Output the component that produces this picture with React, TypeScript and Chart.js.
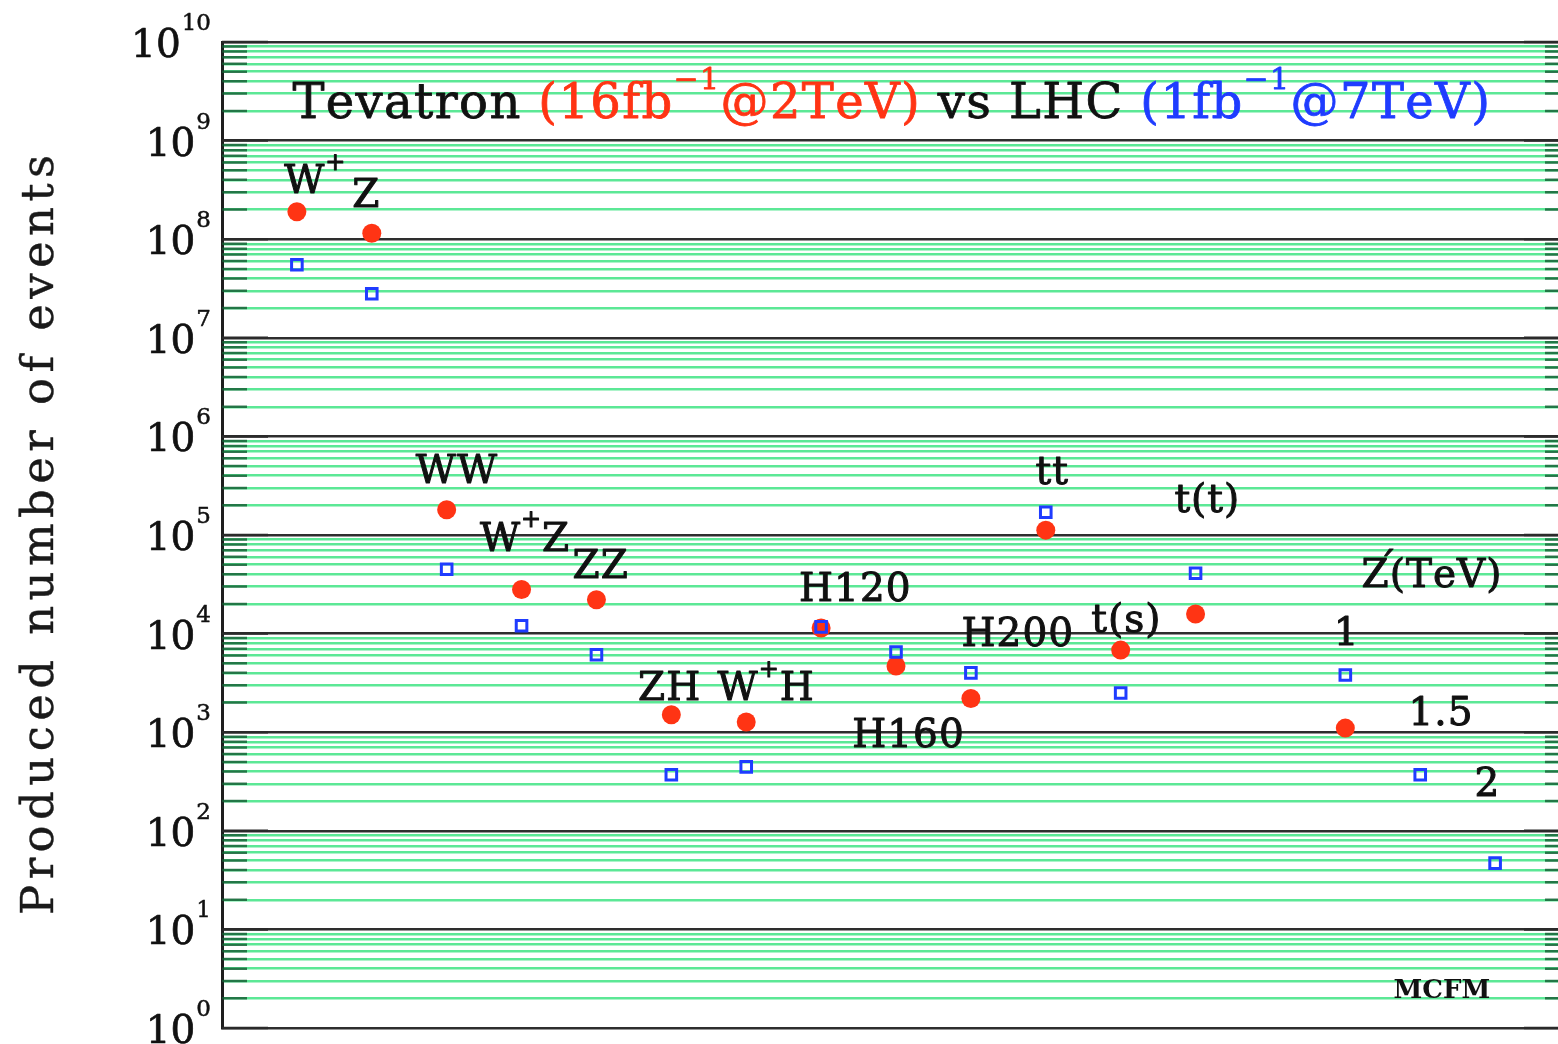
import React, { useEffect, useRef } from "react";
import { Chart, registerables } from "chart.js";

Chart.register(...registerables);

// ---- data ----
const processNames = ["W+", "Z", "WW", "W+Z", "ZZ", "ZH", "W+H", "H120", "H160", "H200", "tt", "t(s)", "t(t)", "Z'1TeV", "Z'1.5TeV", "Z'2TeV"];
const processX = [1, 2, 3, 4, 5, 6, 7, 8, 9, 10, 11, 12, 13, 15, 16, 17];
const tevatronEvents: (number | null)[] = [1.9e8, 1.15e8, 1.8e5, 2.8e4, 2.2e4, 1.5e3, 1.27e3, 1.14e4, 4.7e3, 2.2e3, 1.12e5, 6.8e3, 1.58e4, 1.1e3, null, null];
const lhcEvents: (number | null)[] = [5.5e7, 2.8e7, 4.5e4, 1.2e4, 6.1e3, 370, 445, 1.17e4, 6.5e3, 4.0e3, 1.7e5, 2.5e3, 4.1e4, 3.8e3, 370, 47];

const decadeExponents = [0, 1, 2, 3, 4, 5, 6, 7, 8, 9, 10];

// annotation labels ("^" = next char superscript, "´" = accent)
const labelTexts = ["W^+", "Z", "WW", "W^+Z", "ZZ", "ZH", "W^+H", "H120", "H160", "H200", "tt", "t(s)", "t(t)", "Z´(TeV)", "1", "1.5", "2"];
const labelX = [1.24, 1.92, 3.13, 4.04, 5.05, 5.97, 7.26, 8.45, 9.16, 10.62, 11.08, 12.07, 13.15, 16.15, 15.01, 16.27, 16.89];
const labelY = [2.94e8, 2.12e8, 3.37e5, 6.9e4, 3.66e4, 2.12e3, 2.12e3, 2.14e4, 708, 7.49e3, 3.29e5, 1.04e4, 1.71e5, 2.97e4, 7.66e3, 1.18e3, 225];

const RED = "#ff3414";
const BLUE = "#1f3cff";
const TXT = "#111111";

type Seg = { t: string; c: string; sup?: boolean };

const titleSegs: Seg[] = [
  { t: "Tevatron ", c: TXT },
  { t: "(16fb", c: RED },
  { t: "\u22121", c: RED, sup: true },
  { t: "@2TeV)", c: RED },
  { t: " vs LHC ", c: TXT },
  { t: "(1fb", c: BLUE },
  { t: "\u22121", c: BLUE, sup: true },
  { t: "@7TeV)", c: BLUE },
];
const titleX = [0.94, 16.93];
const titleY = 1.69e9;
const yTitle = "Produced number of events";
const footerText = "MCFM";
const footerX = 16.29;
const footerY = 2.01;

const FAMILY = '"DejaVu Serif", serif';

function parseLabel(s: string, c: string): Seg[] {
  const segs: Seg[] = [];
  let i = 0;
  let cur = "";
  while (i < s.length) {
    const ch = s[i];
    if (ch === "^" && i + 1 < s.length) {
      if (cur) segs.push({ t: cur, c });
      cur = "";
      segs.push({ t: s[i + 1], c, sup: true });
      i += 2;
      continue;
    }
    cur += ch;
    i++;
  }
  if (cur) segs.push({ t: cur, c });
  return segs;
}

function fontFor(size: number, sup: boolean | undefined, weight: string) {
  return `${weight} ${sup ? Math.round(size * 0.62) : size}px ${FAMILY}`;
}

function segWidth(ctx: CanvasRenderingContext2D, segs: Seg[], size: number, weight: string, spacing: number) {
  let w = 0;
  let n = 0;
  for (const s of segs) {
    ctx.font = fontFor(size, s.sup, weight);
    for (const ch of s.t) {
      if (ch === "´") continue;
      w += ctx.measureText(ch).width;
      n++;
    }
  }
  return w + spacing * Math.max(0, n - 1);
}

function fillBold(ctx: CanvasRenderingContext2D, t: string, x: number, y: number, stroke: number) {
  ctx.fillText(t, x, y);
  if (stroke > 0) {
    ctx.lineWidth = stroke;
    ctx.strokeStyle = ctx.fillStyle as string;
    ctx.lineJoin = "round";
    ctx.strokeText(t, x, y);
  }
}

function drawSegs(
  ctx: CanvasRenderingContext2D,
  segs: Seg[],
  x: number,
  y: number,
  size: number,
  weight: string,
  spacing: number,
  align: "left" | "center",
  stroke = 0
) {
  const width = segWidth(ctx, segs, size, weight, spacing);
  let cx = align === "center" ? x - width / 2 : x;
  ctx.textAlign = "left";
  ctx.textBaseline = "alphabetic";
  for (const s of segs) {
    ctx.font = fontFor(size, s.sup, weight);
    ctx.fillStyle = s.c;
    for (const ch of s.t) {
      if (ch === "´") {
        fillBold(ctx, ch, cx - spacing - size * 0.3, y - size * 0.18, stroke);
        continue;
      }
      fillBold(ctx, ch, cx, s.sup ? y - size * 0.6 : y, stroke);
      cx += ctx.measureText(ch).width + spacing;
    }
  }
}

function isDecade(v: number) {
  const l = Math.log10(v);
  return Math.abs(l - Math.round(l)) < 1e-6;
}

const overlayPlugin = {
  id: "overlayText",
  afterDraw(chart: any) {
    const ctx: CanvasRenderingContext2D = chart.ctx;
    const xs = chart.scales.x;
    const ys = chart.scales.y;
    const area = chart.chartArea;
    ctx.save();

    // inner tick marks, left and right edges
    for (const t of ys.ticks) {
      const py = ys.getPixelForValue(t.value);
      const major = isDecade(t.value);
      const len = major ? 46 : 25;
      ctx.strokeStyle = major ? "#2a2a2a" : "rgba(20,90,50,0.8)";
      ctx.lineWidth = 2.5;
      ctx.beginPath();
      ctx.moveTo(area.left, py);
      ctx.lineTo(area.left + len, py);
      ctx.moveTo(area.right, py);
      ctx.lineTo(area.right - len, py);
      ctx.stroke();
    }

    // y tick labels 10^n
    for (const e of decadeExponents) {
      const py = ys.getPixelForValue(Math.pow(10, e));
      const right = area.left - 11;
      ctx.font = `23px ${FAMILY}`;
      const ew = ctx.measureText(String(e)).width;
      ctx.fillStyle = TXT;
      ctx.textAlign = "left";
      ctx.textBaseline = "alphabetic";
      fillBold(ctx, String(e), right - ew, py - 12, 0.5);
      ctx.font = `39px ${FAMILY}`;
      ctx.textAlign = "right";
      fillBold(ctx, "10", right - ew - 1, py + 15, 0.7);
    }

    // y axis title
    ctx.save();
    ctx.translate(53, (area.top + area.bottom) / 2);
    ctx.rotate(-Math.PI / 2);
    const ySeg: Seg[] = [{ t: yTitle, c: "#1a1a1a" }];
    const yNat = segWidth(ctx, ySeg, 45, "normal", 0);
    const ySp = (760 - yNat) / (yTitle.length - 1);
    drawSegs(ctx, ySeg, 0, 0, 45, "normal", ySp, "center", 0.4);
    ctx.restore();

    // title in plot
    const tx0 = xs.getPixelForValue(titleX[0]);
    const tx1 = xs.getPixelForValue(titleX[1]);
    const tn = titleSegs.reduce((a, s) => a + [...s.t].length, 0);
    const tNat = segWidth(ctx, titleSegs, 48, "normal", 0);
    const tSp = (tx1 - tx0 - tNat) / (tn - 1);
    drawSegs(ctx, titleSegs, tx0, ys.getPixelForValue(titleY), 48, "normal", tSp, "left", 0.8);

    // process labels
    labelTexts.forEach((s, i) => {
      const segs = parseLabel(s, TXT);
      drawSegs(ctx, segs, xs.getPixelForValue(labelX[i]), ys.getPixelForValue(labelY[i]), 39, "normal", 1, "center", 1);
    });

    // footer
    drawSegs(ctx, [{ t: footerText, c: TXT }], xs.getPixelForValue(footerX), ys.getPixelForValue(footerY), 26, "bold", 0, "center");

    ctx.restore();
  },
};

function buildLogTicks() {
  const out: { value: number }[] = [];
  for (let e = 0; e <= 10; e++) {
    for (let m = 1; m <= 9; m++) {
      if (e === 10 && m > 1) break;
      out.push({ value: m * Math.pow(10, e) });
    }
  }
  return out;
}

export default function App() {
  const ref = useRef<HTMLCanvasElement | null>(null);
  useEffect(() => {
    if (!ref.current) return;
    const tevData = processX
      .map((x, i) => ({ x, y: tevatronEvents[i] }))
      .filter((p) => p.y != null);
    const lhcData = processX
      .map((x, i) => ({ x, y: lhcEvents[i] }))
      .filter((p) => p.y != null);
    const chart = new Chart(ref.current, {
      type: "scatter",
      data: {
        datasets: [
          {
            label: "LHC (1fb-1 @ 7TeV)",
            data: lhcData as any,
            pointStyle: "rect",
            pointRadius: 7.5,
            borderColor: BLUE,
            borderWidth: 3,
            backgroundColor: "rgba(0,0,0,0)",
            order: 0,
          },
          {
            label: "Tevatron (16fb-1 @ 2TeV)",
            data: tevData as any,
            pointStyle: "circle",
            pointRadius: 9.5,
            borderWidth: 0,
            borderColor: RED,
            backgroundColor: RED,
            order: 1,
          },
        ],
      },
      options: {
        animation: false,
        responsive: false,
        events: [],
        plugins: { legend: { display: false }, tooltip: { enabled: false }, title: { display: false } },
        layout: { autoPadding: false, padding: { top: 42, bottom: 16, left: 0, right: 2 } },
        scales: {
          x: { type: "linear", min: 0, max: 18, display: false },
          y: {
            type: "logarithmic",
            min: 1,
            max: 1e10,
            afterFit: (s: any) => {
              s.width = 222;
            },
            afterBuildTicks: (s: any) => {
              s.ticks = buildLogTicks();
            },
            ticks: { display: false },
            grid: {
              drawTicks: false,
              color: (c: any) => (c.tick && isDecade(c.tick.value) ? "#2e2e2e" : "rgb(92,232,150)"),
              lineWidth: (c: any) => (c.tick && isDecade(c.tick.value) ? 2.5 : 2.4),
            },
            border: { display: true, color: "#1e1e1e", width: 3 },
          },
        },
      },
      plugins: [overlayPlugin],
    });
    return () => chart.destroy();
  }, []);

  return (
    <div style={{ position: "absolute", left: 0, top: 0, width: 1558, height: 1044, overflow: "hidden", background: "#ffffff" }}>
      <canvas ref={ref} width={1572} height={1044} style={{ display: "block", width: 1572, height: 1044 }} />
    </div>
  );
}
